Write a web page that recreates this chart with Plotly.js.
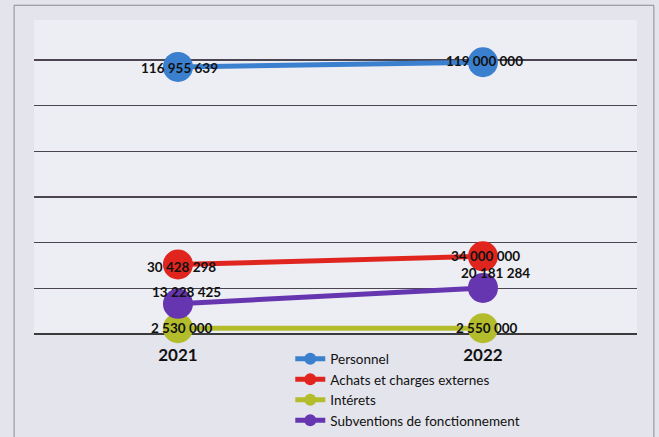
<!DOCTYPE html>
<html>
<head>
<meta charset="utf-8">
<script src="https://cdn.plot.ly/plotly-3.0.1.min.js"></script>
<style>
  html, body { margin: 0; padding: 0; background: #e4e4ec; }
  #chart { width: 659px; height: 437px; }
</style>
</head>
<body>
<div id="chart"></div>
<script>
const years = ['2021', '2022'];
const seriesNames = ['Personnel', 'Achats et charges externes', 'Intérets', 'Subventions de fonctionnement'];
const personnel = [116955639, 119000000];
const achats = [30428298, 34000000];
const interets = [2530000, 2550000];
const subventions = [13228425, 20181284];
const labelsPersonnel = ['116 955 639', '119 000 000'];
const labelsAchats = ['30 428 298', '34 000 000'];
const labelsInterets = ['2 530 000', '2 550 000'];
const labelsSubventions = ['13 228 425', '20 181 284'];

const colors = ['#3b7fcf', '#e0251f', '#b3bd2c', '#6636b0'];
const values = [personnel, achats, interets, subventions];
const labels = [labelsPersonnel, labelsAchats, labelsInterets, labelsSubventions];
// pixel nudges of the value labels relative to their point [xshift, yshift]
const labelShifts = [
  [[2, -1], [2, 1]],
  [[4, -2], [3, 0]],
  [[4, 0], [4, 0]],
  [[9, 12], [13, 15]]
];

const traces = values.map((v, i) => ({
  type: 'scatter',
  mode: 'lines+markers',
  name: seriesNames[i],
  x: years,
  y: v,
  line: { color: colors[i], width: 5 },
  marker: { color: colors[i], size: 30 },
  cliponaxis: false,
  hoverinfo: 'skip'
}));

const annotations = [];
values.forEach((v, i) => {
  v.forEach((val, j) => {
    annotations.push({
      x: j, y: val, xref: 'x', yref: 'y',
      text: labels[i][j],
      showarrow: false,
      xshift: labelShifts[i][j][0],
      yshift: labelShifts[i][j][1],
      font: { family: 'Lato, "Open Sans", sans-serif', size: 13.5, color: '#111', weight: 'bold' }
    });
  });
});

const layout = {
  width: 659,
  height: 437,
  margin: { l: 34, r: 22, t: 20, b: 103, autoexpand: false },
  paper_bgcolor: '#e4e4ec',
  plot_bgcolor: '#ededf4',
  showlegend: true,
  legend: {
    x: 0.425, xanchor: 'left',
    y: -0.03, yanchor: 'top',
    bgcolor: 'rgba(0,0,0,0)',
    font: { family: 'Lato, "Open Sans", sans-serif', size: 13.5, color: '#111' },
    tracegroupgap: 0,
    itemsizing: 'constant'
  },
  xaxis: {
    type: 'category',
    range: [-0.472, 1.505],
    showgrid: false,
    zeroline: false,
    showline: false,
    ticks: 'outside',
    ticklen: 6,
    tickcolor: 'rgba(0,0,0,0)',
    tickfont: { family: 'Lato, "Open Sans", sans-serif', size: 17, color: '#111', weight: 'bold' }
  },
  yaxis: {
    range: [0, 137500000],
    dtick: 20000000,
    showgrid: true,
    gridcolor: '#4a4550',
    gridwidth: 1.5,
    zeroline: true,
    zerolinecolor: '#3a3a3a',
    zerolinewidth: 2.5,
    showticklabels: false,
    showline: false
  },
  annotations: annotations,
  shapes: [{
    type: 'rect', xref: 'paper', yref: 'paper',
    x0: -0.033, x1: 1.028, y0: -0.5, y1: 1.047,
    line: { color: '#8a8a96', width: 1 },
    fillcolor: 'rgba(0,0,0,0)',
    layer: 'below'
  }]
};

Plotly.newPlot('chart', traces, layout, { displayModeBar: false, staticPlot: true });
</script>
</body>
</html>
